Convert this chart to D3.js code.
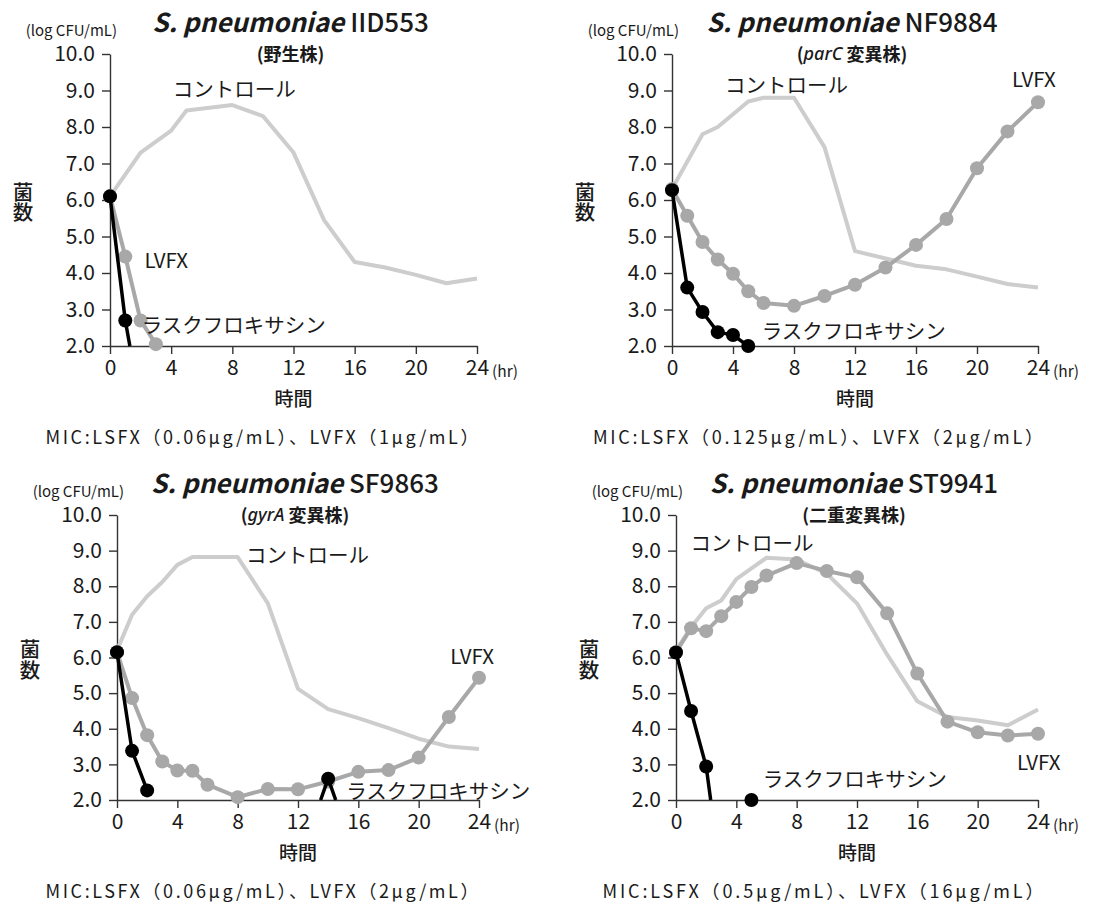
<!DOCTYPE html>
<html>
<head>
<meta charset="utf-8">
<script src="https://cdn.jsdelivr.net/npm/d3@7"></script>
<style>
  body { margin: 0; background: #fff; }
  svg { display: block; }
  text { font-family: "Noto Sans CJK JP", "Noto Sans", sans-serif; fill: #1a1a1a; }
</style>
</head>
<body>
<svg id="chart" width="1099" height="911"></svg>
<script>
// ---------------- DATA ----------------
const timeTicks = [0, 4, 8, 12, 16, 20, 24];
const valueTicks = [2, 3, 4, 5, 6, 7, 8, 9, 10];
const yUnitLabel = "(log CFU/mL)";
const yAxisTitle = "菌数";
const xAxisTitle = "時間";
const xUnit = "(hr)";
const seriesNames = ["コントロール", "LVFX", "ラスクフロキサシン"];

const strainNames = ["IID553", "NF9884", "SF9863", "ST9941"];
const speciesName = "S. pneumoniae";
const subtitlePre = ["(", "(", "(", "("];
const subtitleItalic = ["", "parC", "gyrA", ""];
const subtitleRest = ["野生株)", " 変異株)", " 変異株)", "二重変異株)"];
const captions = [
  "MIC:LSFX（0.06μg/mL）、LVFX（1μg/mL）",
  "MIC:LSFX（0.125μg/mL）、LVFX（2μg/mL）",
  "MIC:LSFX（0.06μg/mL）、LVFX（2μg/mL）",
  "MIC:LSFX（0.5μg/mL）、LVFX（16μg/mL）"
];

// IID553 (wild type)
const iid553Control = [[0,6.1],[2,7.3],[3,7.6],[4,7.9],[5,8.45],[8,8.6],[10,8.3],[12,7.3],[14,5.45],[16,4.3],[18,4.15],[20,3.95],[22,3.72],[24,3.85]];
const iid553Lvfx = [[0,6.1],[1,4.45],[2,2.7],[3,2.05]];
const iid553Lsfx = [[0,6.1],[1,2.7]];
const iid553LsfxBelowLimit = [[1.3,2.0]];

// NF9884 (parC mutant)
const nf9884Control = [[0,6.3],[2,7.8],[3,8.0],[4,8.35],[5,8.7],[6,8.8],[8,8.8],[10,7.45],[12,4.6],[16,4.2],[18,4.1],[20,3.9],[22,3.7],[24,3.6]];
const nf9884Lvfx = [[0,6.3],[1,5.57],[2,4.85],[3,4.37],[4,3.98],[5,3.5],[6,3.18],[8,3.1],[10,3.37],[12,3.68],[14,4.15],[16,4.77],[18,5.48],[20,6.87],[22,7.88],[24,8.68]];
const nf9884Lsfx = [[0,6.27],[1,3.6],[2,2.93],[3,2.38],[4,2.3],[5,2.0]];

// SF9863 (gyrA mutant)
const sf9863Control = [[0,6.2],[1,7.2],[2,7.72],[3,8.12],[4,8.6],[5,8.82],[8,8.82],[10,7.52],[12,5.12],[14,4.55],[16,4.3],[18,4.02],[20,3.72],[22,3.5],[24,3.43]];
const sf9863Lvfx = [[0,6.15],[1,4.86],[2,3.82],[3,3.08],[4,2.83],[5,2.82],[6,2.43],[8,2.08],[10,2.31],[12,2.3],[14,2.52],[16,2.79],[18,2.84],[20,3.19],[22,4.33],[24,5.43]];
const sf9863Lsfx = [[0,6.15],[1,3.38],[2,2.27]];
const sf9863LsfxRegrowth = [[13.5,2.0],[14,2.6],[14.5,2.0]];
const sf9863LsfxRegrowthPoint = [[14,2.6]];

// ST9941 (double mutant)
const st9941Control = [[0,6.2],[1,6.85],[2,7.38],[3,7.6],[4,8.2],[5,8.5],[6,8.8],[8,8.75],[10,8.35],[12,7.52],[14,6.08],[16,4.77],[18,4.33],[20,4.23],[22,4.1],[24,4.54]];
const st9941Lvfx = [[0,6.15],[1,6.82],[2,6.74],[3,7.16],[4,7.56],[5,7.98],[6,8.3],[8,8.65],[10,8.43],[12,8.25],[14,7.24],[16,5.55],[18,4.2],[20,3.9],[22,3.81],[24,3.86]];
const st9941Lsfx = [[0,6.14],[1,4.5],[2,2.94]];
const st9941LsfxBelowLimit = [[2.3,2.0]];
const st9941LsfxLatePoint = [[5,2.0]];

// ---------------- LAYOUT / STYLE ----------------
const colors = { control: "#cdcdcd", lvfx: "#a8a8a8", lsfx: "#000000", axis: "#333333" };

const panels = [
  { x0: 110, x1: 477, yTop: 54, yBot: 346,
    control: iid553Control, lvfx: iid553Lvfx, lsfx: iid553Lsfx, lsfxTail: iid553LsfxBelowLimit,
    extraPath: null, extraPoints: [],
    labels: [[4.1, 9.06], [2.25, 4.39], [2.07, 2.59]],
    caption: { cx: 262, y: 444, w: 433 } },
  { x0: 672, x1: 1038, yTop: 54, yBot: 346,
    control: nf9884Control, lvfx: nf9884Lvfx, lsfx: nf9884Lsfx, lsfxTail: [],
    extraPath: null, extraPoints: [],
    labels: [[3.48, 9.17], [22.3, 9.35], [5.88, 2.43]],
    caption: { cx: 818, y: 444, w: 450 } },
  { x0: 117, x1: 479, yTop: 515, yBot: 800,
    control: sf9863Control, lvfx: sf9863Lvfx, lsfx: sf9863Lsfx, lsfxTail: [],
    extraPath: sf9863LsfxRegrowth, extraPoints: sf9863LsfxRegrowthPoint,
    labels: [[8.56, 8.91], [22.1, 6.07], [15.2, 2.28]],
    caption: { cx: 262, y: 898, w: 433 } },
  { x0: 676, x1: 1038, yTop: 515, yBot: 800,
    control: st9941Control, lvfx: st9941Lvfx, lsfx: st9941Lsfx, lsfxTail: st9941LsfxBelowLimit,
    extraPath: null, extraPoints: st9941LsfxLatePoint,
    labels: [[0.96, 9.24], [22.6, 3.09], [5.75, 2.62]],
    caption: { cx: 823, y: 898, w: 441 } }
];

const svg = d3.select("#chart");

panels.forEach((p, i) => {
  const g = svg.append("g");
  const x = d3.scaleLinear().domain([0, 24]).range([p.x0, p.x1]);
  const y = d3.scaleLinear().domain([2, 10]).range([p.yBot, p.yTop]);
  const line = d3.line().x(d => x(d[0])).y(d => y(d[1]));
  const cx = (p.x0 + p.x1) / 2;

  // axes
  const yAxis = g.append("g").attr("transform", `translate(${p.x0},0)`)
    .call(d3.axisLeft(y).tickValues(valueTicks).tickFormat(d3.format(".1f"))
      .tickSize(8).tickSizeOuter(0).tickPadding(7));
  const xAxis = g.append("g").attr("transform", `translate(0,${p.yBot})`)
    .call(d3.axisBottom(x).tickValues(timeTicks).tickFormat(d3.format("d"))
      .tickSize(8).tickSizeOuter(0).tickPadding(6));
  [yAxis, xAxis].forEach(a => {
    a.select(".domain").attr("stroke", colors.axis).attr("stroke-width", 1.4);
    a.selectAll(".tick line").attr("stroke", colors.axis).attr("stroke-width", 1.4);
    a.selectAll(".tick text").attr("font-size", 21)
      .attr("font-family", "'Noto Sans', 'Noto Sans CJK JP', sans-serif").attr("fill", "#1a1a1a");
  });

  // (hr)
  g.append("text").attr("x", x(24) + 15).attr("y", p.yBot + 31)
    .attr("font-size", 15.5).attr("font-family", "'Noto Sans', sans-serif").text(xUnit);

  // (log CFU/mL)
  g.append("text").attr("x", p.x0 + 7).attr("y", p.yTop - 18)
    .attr("text-anchor", "end").attr("font-size", 15)
    .attr("font-family", "'Noto Sans', sans-serif").text(yUnitLabel);

  // 菌数 (vertical)
  g.append("text").attr("x", p.x0 - 87).attr("y", y(6) + 2)
    .attr("writing-mode", "vertical-rl").attr("text-anchor", "middle")
    .attr("font-size", 20.5).attr("font-weight", 500).text(yAxisTitle);

  // 時間
  g.append("text").attr("x", cx).attr("y", p.yBot + 51)
    .attr("text-anchor", "middle").attr("dominant-baseline", "central")
    .attr("font-size", 19).attr("font-weight", 500).text(xAxisTitle);

  // title
  const t = g.append("text").attr("x", cx - 3).attr("y", p.yTop - 22)
    .attr("text-anchor", "middle").attr("font-size", 26)
    .attr("font-family", "'Noto Sans', sans-serif");
  t.append("tspan").attr("font-style", "italic").attr("font-weight", 600).text(speciesName + " ");
  t.append("tspan").attr("font-weight", 500).text(strainNames[i]);

  // subtitle
  const st = g.append("text").attr("x", cx - 3).attr("y", p.yTop - 1)
    .attr("text-anchor", "middle").attr("dominant-baseline", "central")
    .attr("font-size", 18).attr("font-weight", 700);
  st.append("tspan").text(subtitlePre[i]);
  if (subtitleItalic[i]) st.append("tspan").attr("font-style", "italic").attr("font-weight", 500).attr("font-family", "'Noto Sans', sans-serif").text(subtitleItalic[i]);
  st.append("tspan").text(subtitleRest[i]);

  // control line
  g.append("path").datum(p.control).attr("d", line)
    .attr("fill", "none").attr("stroke", colors.control).attr("stroke-width", 4)
    .attr("stroke-linejoin", "round");

  // LVFX
  g.append("path").datum(p.lvfx).attr("d", line)
    .attr("fill", "none").attr("stroke", colors.lvfx).attr("stroke-width", 4)
    .attr("stroke-linejoin", "round");
  g.selectAll(null).data(p.lvfx).enter().append("circle")
    .attr("cx", d => x(d[0])).attr("cy", d => y(d[1])).attr("r", 7)
    .attr("fill", colors.lvfx);

  // Lasfloxacin
  g.append("path").datum(p.lsfx.concat(p.lsfxTail)).attr("d", line)
    .attr("fill", "none").attr("stroke", colors.lsfx).attr("stroke-width", 3.5)
    .attr("stroke-linejoin", "round");
  if (p.extraPath) {
    g.append("path").datum(p.extraPath).attr("d", line)
      .attr("fill", "none").attr("stroke", colors.lsfx).attr("stroke-width", 3.5)
      .attr("stroke-linejoin", "round");
  }
  g.selectAll(null).data(p.lsfx.concat(p.extraPoints)).enter().append("circle")
    .attr("cx", d => x(d[0])).attr("cy", d => y(d[1])).attr("r", 7)
    .attr("fill", colors.lsfx);

  // series labels
  p.labels.forEach((l, k) => {
    g.append("text").attr("x", x(l[0])).attr("y", y(l[1]))
      .attr("dominant-baseline", "central").attr("font-size", 20.5)
      .attr("font-family", k === 1 ? "'Noto Sans', sans-serif" : "'Noto Sans CJK JP', sans-serif")
      .text(seriesNames[k]);
  });

  // caption
  g.append("text").attr("x", p.caption.cx - p.caption.w / 2).attr("y", p.caption.y)
    .attr("font-size", 18)
    .attr("font-family", "'Liberation Serif', 'Noto Sans CJK JP', serif")
    .attr("textLength", p.caption.w).attr("lengthAdjust", "spacing")
    .text(captions[i]);
});
</script>
</body>
</html>
